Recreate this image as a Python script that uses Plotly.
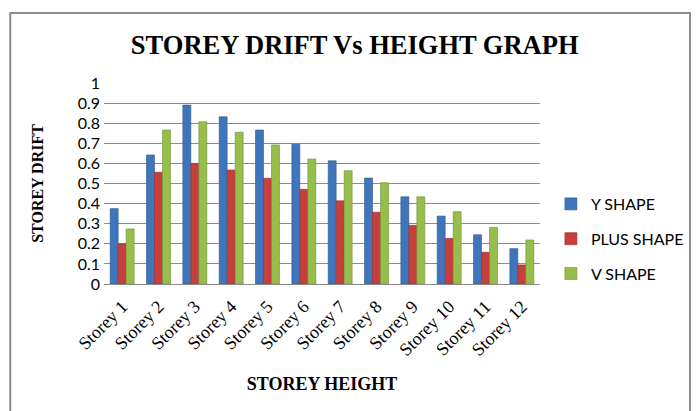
import plotly.graph_objects as go

storeys = ["Storey 1", "Storey 2", "Storey 3", "Storey 4", "Storey 5", "Storey 6",
           "Storey 7", "Storey 8", "Storey 9", "Storey 10", "Storey 11", "Storey 12"]
y_shape = [0.375, 0.642, 0.89, 0.832, 0.766, 0.695, 0.613, 0.527, 0.434, 0.338, 0.245, 0.176]
plus_shape = [0.2, 0.556, 0.6, 0.567, 0.526, 0.471, 0.414, 0.357, 0.292, 0.227, 0.158, 0.095]
v_shape = [0.274, 0.766, 0.807, 0.755, 0.692, 0.622, 0.564, 0.504, 0.434, 0.36, 0.282, 0.219]

series = [("Y SHAPE", y_shape, "#3f75bb", "#2c5a94"),
          ("PLUS SHAPE", plus_shape, "#c63f3c", "#9a2d2b"),
          ("V SHAPE", v_shape, "#97bd4a", "#71923a")]

fig = go.Figure()
for name, vals, col, edge in series:
    fig.add_trace(go.Bar(x=storeys, y=vals, name=name, legendgroup=name,
                         marker=dict(color=col, line=dict(color=edge, width=0.6))))

serif = "Liberation Serif, Times New Roman, serif"
sans = "Lato, Open Sans, sans-serif"

# page body adds an 8px offset, so margins are shifted to compensate
fig.update_layout(
    width=699, height=411,
    margin=dict(l=96, r=167, t=75, b=135),
    paper_bgcolor="white", plot_bgcolor="white",
    barmode="group", bargap=0.34, bargroupgap=0.0,
    title=dict(text="<b>STOREY DRIFT Vs HEIGHT GRAPH</b>", x=0.496, xanchor="center",
               y=0.91, yanchor="middle", font=dict(family=serif, size=26.5, color="black")),
    legend=dict(x=1.025, xanchor="left", y=0.224, yanchor="middle", tracegroupgap=11,
                font=dict(family=sans, size=16, color="black"),
                itemwidth=30, bgcolor="rgba(0,0,0,0)"),
    font=dict(family=sans, color="black"),
    shapes=[dict(type="rect", xref="paper", yref="paper",
                 x0=-0.215, x1=1.344, y0=-0.75, y1=1.348,
                 line=dict(color="#8c8c8c", width=2), layer="below")],
)
fig.update_xaxes(type="category", tickangle=-45, showgrid=False, automargin=False,
                 showline=True, linecolor="#8c8c8c", linewidth=1, ticks="",
                 ticklabelstandoff=4,
                 tickfont=dict(family=serif, size=18, color="black"),
                 title=dict(text="<b>STOREY HEIGHT</b>", standoff=18,
                            font=dict(family=serif, size=18, color="black")))
fig.update_yaxes(range=[0, 1.0], dtick=0.1, tickformat="~g", showgrid=True, automargin=False,
                 gridcolor="#8c8c8c", gridwidth=1, zeroline=False, showline=False,
                 ticks="", ticklabelstandoff=3,
                 tickfont=dict(family=sans, size=16, color="black"),
                 title=dict(text="<b>STOREY DRIFT</b>", standoff=30,
                            font=dict(family=serif, size=16, color="black")))

fig.write_html("out.html")
